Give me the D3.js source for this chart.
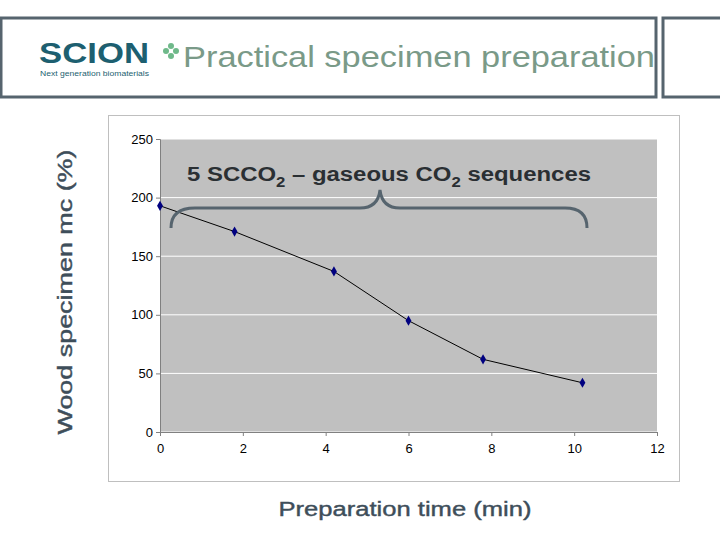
<!DOCTYPE html>
<html><head><meta charset="utf-8">
<script src="https://cdn.jsdelivr.net/npm/d3@7"></script>
<style>body{margin:0;background:#fff}</style>
</head><body>
<div class="container"></div>
<script>
const width = 720;
const height = 540;
const font = '"Liberation Sans", Arial, sans-serif';

// preparation time (min) and wood specimen moisture content (%)
const times = [0, 1.8, 4.2, 6, 7.8, 10.2];
const moisture = [193, 171, 137, 95, 62, 42];
const xTicks = [0, 2, 4, 6, 8, 10, 12];
const yTicks = [0, 50, 100, 150, 200, 250];

const svg = d3.select('.container').append('svg')
    .attr('width', width).attr('height', height)
    .style('font-family', font);

// header boxes
svg.append('rect').attr('x', 1).attr('y', 18).attr('width', 655).attr('height', 79)
    .attr('fill', 'none').attr('stroke', '#56646e').attr('stroke-width', 3);
svg.append('rect').attr('x', 663).attr('y', 18).attr('width', 60).attr('height', 79)
    .attr('fill', 'none').attr('stroke', '#56646e').attr('stroke-width', 3);

// logo
svg.append('text').attr('x', 39).attr('y', 63).text('SCION')
    .attr('font-size', 29).attr('font-weight', 'bold').attr('fill', '#1d5f70')
    .attr('textLength', 110).attr('lengthAdjust', 'spacingAndGlyphs');
svg.append('text').attr('x', 40).attr('y', 76).text('Next generation biomaterials')
    .attr('font-size', 8).attr('fill', '#1d5f70')
    .attr('textLength', 109).attr('lengthAdjust', 'spacingAndGlyphs');
const clover = svg.append('g').attr('fill', '#6fb98a');
[[0, -5], [0, 5], [-5, 0], [5, 0]].forEach(([dx, dy]) =>
    clover.append('circle').attr('cx', 171 + dx).attr('cy', 51 + dy).attr('r', 3));
svg.append('text').attr('x', 183).attr('y', 67).text('Practical specimen preparation')
    .attr('font-size', 29).attr('fill', '#7a9a88')
    .attr('textLength', 472).attr('lengthAdjust', 'spacingAndGlyphs');

// chart frame
svg.append('rect').attr('x', 108.5).attr('y', 115.5).attr('width', 571).attr('height', 366)
    .attr('fill', '#fff').attr('stroke', '#bfbfbf');

const x = d3.scaleLinear().domain([0, 12]).range([160, 657]);
const y = d3.scaleLinear().domain([0, 250]).range([432, 139]);

svg.append('rect').attr('x', x(0)).attr('y', y(250))
    .attr('width', x(12) - x(0)).attr('height', y(0) - y(250)).attr('fill', '#c0c0c0');

svg.append('g').selectAll('line').data(yTicks).join('line')
    .attr('x1', x(0)).attr('x2', x(12)).attr('y1', d => y(d)).attr('y2', d => y(d))
    .attr('stroke', '#fff').attr('stroke-width', 1);

const xAxis = svg.append('g').attr('transform', `translate(0,${y(0)})`)
    .call(d3.axisBottom(x).tickValues(xTicks).tickSize(4));
const yAxis = svg.append('g').attr('transform', `translate(${x(0)},0)`)
    .call(d3.axisLeft(y).tickValues(yTicks).tickSize(4));
[xAxis, yAxis].forEach(a => {
    a.selectAll('text').attr('font-size', 13).attr('fill', '#000').style('font-family', font);
    a.selectAll('path,line').attr('stroke', '#808080');
});
xAxis.selectAll('text').attr('dy', '1.1em');

svg.append('path').datum(times.map((t, i) => [t, moisture[i]]))
    .attr('d', d3.line().x(d => x(d[0])).y(d => y(d[1])))
    .attr('fill', 'none').attr('stroke', '#000').attr('stroke-width', 1);
svg.append('g').selectAll('path').data(times).join('path')
    .attr('d', d3.symbol(d3.symbolDiamond, 30))
    .attr('transform', (d, i) => `translate(${x(d)},${y(moisture[i])})`)
    .attr('fill', '#000080');

// annotation
const note = svg.append('text').attr('x', 187).attr('y', 181)
    .attr('font-size', 20).attr('font-weight', 'bold').attr('fill', '#2a2f33')
    .attr('textLength', 404).attr('lengthAdjust', 'spacingAndGlyphs');
note.append('tspan').text('5 SCCO');
note.append('tspan').text('2').attr('font-size', 14).attr('dy', 6);
note.append('tspan').text(' – gaseous CO').attr('dy', -6);
note.append('tspan').text('2').attr('font-size', 14).attr('dy', 6);
note.append('tspan').text(' sequences').attr('dy', -6);

// brace
svg.append('path')
    .attr('d', 'M171,228 Q171,208 195,208 L360,208 Q378,208 380,190 Q382,208 400,208 L565,208 Q587,208 587,228')
    .attr('fill', 'none').attr('stroke', '#56646e').attr('stroke-width', 3);

// axis titles
svg.append('text').attr('transform', 'translate(72,292) rotate(-90)')
    .attr('text-anchor', 'middle').attr('font-size', 20)
    .attr('fill', '#3e4e5a').attr('stroke', '#3e4e5a').attr('stroke-width', 0.4)
    .attr('textLength', 285).attr('lengthAdjust', 'spacingAndGlyphs')
    .text('Wood specimen mc (%)');
svg.append('text').attr('x', 405).attr('y', 516)
    .attr('text-anchor', 'middle').attr('font-size', 20)
    .attr('fill', '#3e4e5a').attr('stroke', '#3e4e5a').attr('stroke-width', 0.4)
    .attr('textLength', 253).attr('lengthAdjust', 'spacingAndGlyphs')
    .text('Preparation time (min)');
</script>
</body></html>
